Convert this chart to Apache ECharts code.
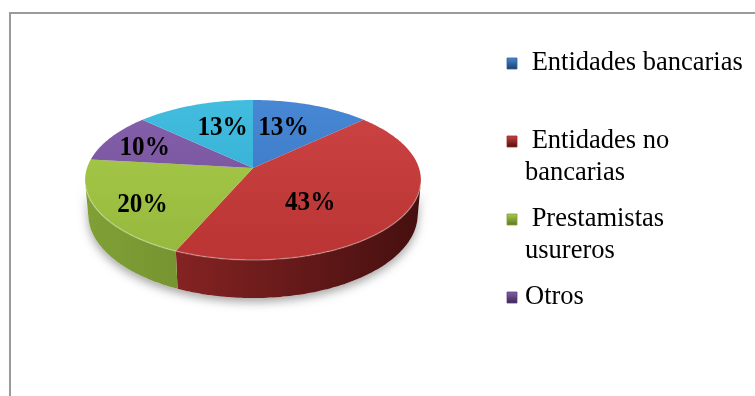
<!DOCTYPE html>
<html>
<head>
<meta charset="utf-8">
<script src="https://cdn.jsdelivr.net/npm/echarts/dist/echarts.min.js"></script>
<style>
  html, body { margin: 0; padding: 0; background: #ffffff; }
  #chart { width: 755px; height: 396px; }
</style>
</head>
<body>
<div id="chart"></div>
<script>
// Fuentes de financiamiento (porcentaje de respuestas)
const categories = ['Entidades bancarias', 'Entidades no bancarias', 'Prestamistas usureros', 'Otros', 'No especificado'];
const values = [13, 43, 20, 10, 13];
// Texto de la leyenda (solo las cuatro primeras categorías)
const legendLabels = [' Entidades bancarias', ' Entidades no\nbancarias', ' Prestamistas\nusureros', 'Otros'];

// Estilo de cada porción: cara superior [claro, oscuro] y lateral [claro, oscuro]
const topColors = [['#4887d3', '#306ebc'], ['#cc4343', '#b63131'], ['#abcc4b', '#8fb33a'], ['#8461aa', '#6c4992'], ['#42bde0', '#29a1c5']];
const sideColors = [['#2f62a3', '#1b3d6b'], ['#9c2a2a', '#460f0f'], ['#80a036', '#5b7624'], ['#5e3f80', '#3a2550'], ['#2389a8', '#145a70']];
// Posición de las etiquetas: fracción del radio y desplazamiento angular (grados)
const labelRadius = [0.59, 0.53, 0.76, 0.73, 0.59];
const labelShift = [-4, 17, -5, -3, 4];

// Cámara de la vista en perspectiva
const VIEW = { cx: 253, cy: 168, f: 976, D: 5.88, tilt: 28.1 * Math.PI / 180, h: 0.238 };
const ST = Math.sin(VIEW.tilt), CT = Math.cos(VIEW.tilt);

function project(x, y, z) {
  const up = y * ST + z * CT;
  const depth = VIEW.D + y * CT - z * ST;
  return [VIEW.cx + VIEW.f * x / depth, VIEW.cy - VIEW.f * up / depth];
}
// theta: ángulo en sentido horario desde las 12
function rim(theta, r, z) {
  return project(r * Math.sin(theta), r * Math.cos(theta), z);
}
function arc(a0, a1, r, z) {
  const pts = [];
  const n = Math.max(2, Math.ceil(Math.abs(a1 - a0) / (Math.PI / 180)));
  for (let k = 0; k <= n; k++) pts.push(rim(a0 + (a1 - a0) * k / n, r, z));
  return pts;
}

const total = values.reduce((s, v) => s + v, 0);
const starts = [];
values.reduce((acc, v) => { starts.push(acc); return acc + v; }, 0);

// Tramo visible de la pared lateral
const visA = Math.acos(-1 / (VIEW.D * CT));
const visB = 2 * Math.PI - visA;

const leftX = rim(1.5 * Math.PI, 1, 0)[0];
const rightX = rim(0.5 * Math.PI, 1, 0)[0];
const topY = rim(0, 1, 0)[1];
const botY = rim(Math.PI, 1, -VIEW.h)[1];

function renderSlice(params, api) {
  const i = params.dataIndex;
  const v = api.value(0);
  const a0 = starts[i] / total * 2 * Math.PI;
  const a1 = a0 + v / total * 2 * Math.PI;
  const children = [];

  if (i === 0) {
    // sombra bajo el disco
    children.push({
      type: 'polygon', z2: 0,
      shape: { points: arc(visA, visB, 1, -VIEW.h).concat(arc(visB, visA, 1, 0)) },
      style: { fill: '#ffffff', shadowColor: 'rgba(0,0,0,0.35)', shadowBlur: 10, shadowOffsetY: 4 }
    });
  }

  const lo = Math.max(a0, visA), hi = Math.min(a1, visB);
  if (hi > lo) {
    children.push({
      type: 'polygon', z2: 1,
      shape: { points: arc(lo, hi, 1, 0).concat(arc(hi, lo, 1, -VIEW.h)) },
      style: {
        fill: new echarts.graphic.LinearGradient(leftX, 0, rightX, 0, [
          { offset: 0, color: sideColors[i][0] },
          { offset: 1, color: sideColors[i][1] }
        ], true)
      }
    });
    children.push({
      type: 'polyline', z2: 3,
      shape: { points: arc(lo, hi, 1, 0) },
      style: { stroke: 'rgba(255,255,255,0.28)', lineWidth: 1.5, fill: null }
    });
  }

  children.push({
    type: 'polygon', z2: 2,
    shape: { points: [project(0, 0, 0)].concat(arc(a0, a1, 1, 0)) },
    style: {
      fill: new echarts.graphic.LinearGradient(0, topY, 0, botY, [
        { offset: 0, color: topColors[i][0] },
        { offset: 1, color: topColors[i][1] }
      ], true)
    }
  });

  const mid = (a0 + a1) / 2 + labelShift[i] * Math.PI / 180;
  const lp = rim(mid, labelRadius[i], 0);
  children.push({
    type: 'text', z2: 4,
    x: lp[0], y: lp[1], scaleX: 0.9,
    style: {
      text: Math.round(v / total * 100) + '%',
      font: 'bold 28px "Liberation Serif", "Times New Roman", serif',
      fill: '#000000', align: 'center', verticalAlign: 'middle'
    }
  });

  return { type: 'group', children: children };
}

// Leyenda
const legendTop = [47, 125, 203, 281];
const legendGraphics = [];
legendLabels.forEach((txt, i) => {
  legendGraphics.push({
    type: 'rect', x: 507, y: legendTop[i] + 11,
    shape: { width: 10, height: 11 },
    style: {
      fill: new echarts.graphic.LinearGradient(0, 0, 0, 1, [
        { offset: 0, color: topColors[i][0] },
        { offset: 1, color: sideColors[i][1] }
      ]),
      stroke: sideColors[i][0], lineWidth: 0.8
    }
  });
  legendGraphics.push({
    type: 'text', x: 525, y: legendTop[i],
    style: {
      text: txt, font: '26.5px "Liberation Serif", "Times New Roman", serif',
      fill: '#000000', lineHeight: 32, verticalAlign: 'top', align: 'left'
    }
  });
});

const chart = echarts.init(document.getElementById('chart'), null, { renderer: 'canvas' });
chart.setOption({
  backgroundColor: '#ffffff',
  animation: false,
  graphic: [{
    type: 'rect', x: 10, y: 13,
    shape: { width: 800, height: 450 },
    style: { fill: null, stroke: '#9a9a9a', lineWidth: 2 }
  }].concat(legendGraphics),
  series: [{
    type: 'custom',
    coordinateSystem: 'none',
    renderItem: renderSlice,
    data: values.map((v, i) => ({ name: categories[i], value: [v] }))
  }]
});
</script>
</body>
</html>
